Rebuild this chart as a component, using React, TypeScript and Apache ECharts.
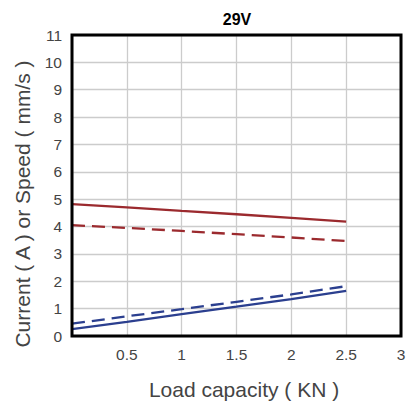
import React, { useEffect, useRef } from "react";
import * as echarts from "echarts";

const loads = [0, 0.5, 1, 1.5, 2, 2.5];
const redSolid = [4.82, 4.7, 4.57, 4.45, 4.32, 4.18];
const redDashed = [4.05, 3.95, 3.84, 3.72, 3.6, 3.47];
const blueSolid = [0.25, 0.52, 0.8, 1.07, 1.35, 1.65];
const blueDashed = [0.45, 0.72, 0.98, 1.25, 1.52, 1.82];

const titleText = "29V";
const xName = "Load capacity ( KN )";
const yName = "Current ( A ) or Speed ( mm/s )";

const FONT = "'Liberation Sans', Arial, Helvetica, sans-serif";
const RED = "#9b2a2e";
const BLUE = "#2b3f8f";

const pairs = (ys: number[]) => loads.map((x, i) => [x, ys[i]]);

export default function App() {
  const ref = useRef<HTMLDivElement>(null);
  useEffect(() => {
    if (!ref.current) return;
    const chart = echarts.init(ref.current, null, { renderer: "svg" });
    const mk = (name: string, ys: number[], color: string, dashed: boolean) => ({
      name,
      type: "line",
      data: pairs(ys),
      showSymbol: false,
      symbol: "none",
      lineStyle: { color, width: 2.3, type: dashed ? [13, 7] : "solid" },
      itemStyle: { color },
    });
    chart.setOption({
      animation: false,
      textStyle: { fontFamily: FONT },
      grid: {
        left: 72,
        right: 8,
        top: 35,
        bottom: 69,
        show: false,
      },
      xAxis: {
        type: "value",
        min: 0,
        max: 3,
        interval: 0.5,
        axisLine: { show: false },
        axisTick: { show: false },
        splitLine: { show: true, lineStyle: { color: "#cccccc", width: 1.3 } },
        axisLabel: {
          color: "#444",
          fontSize: 15.5,
          fontFamily: FONT,
          margin: 10,
          showMaxLabel: true,
          formatter: (v: number) => (v === 0 ? "" : String(v)),
        },
      },
      yAxis: {
        type: "value",
        min: 0,
        max: 11,
        interval: 1,
        axisLine: { show: false },
        axisTick: { show: false },
        splitLine: { show: true, lineStyle: { color: "#cccccc", width: 1.3 } },
        axisLabel: { color: "#444", fontSize: 15.5, fontFamily: FONT, margin: 10 },
      },
      graphic: [
        {
          type: "rect",
          z: 100,
          shape: { x: 72, y: 35, width: 329, height: 301 },
          style: { fill: "none", stroke: "#000", lineWidth: 3 },
          silent: true,
        },
        {
          type: "text",
          x: 237,
          y: 19,
          style: {
            text: titleText,
            fontSize: 16,
            fontWeight: "bold",
            fontFamily: FONT,
            fill: "#000",
            align: "center",
            verticalAlign: "middle",
          },
        },
        {
          type: "text",
          x: 22,
          y: 204,
          rotation: Math.PI / 2,
          style: {
            text: yName,
            fontSize: 21,
            fontFamily: FONT,
            fill: "#444",
            align: "center",
            verticalAlign: "middle",
          },
        },
        {
          type: "text",
          x: 244,
          y: 389,
          style: {
            text: xName,
            fontSize: 21,
            fontFamily: FONT,
            fill: "#444",
            align: "center",
            verticalAlign: "middle",
          },
        },
      ],
      series: [
        mk("red solid", redSolid, RED, false),
        mk("red dashed", redDashed, RED, true),
        mk("blue solid", blueSolid, BLUE, false),
        mk("blue dashed", blueDashed, BLUE, true),
      ],
    });
    return () => chart.dispose();
  }, []);
  return (
    <div
      ref={ref}
      style={{ position: "absolute", left: 0, top: 0, width: 409, height: 405, background: "#fff" }}
    />
  );
}
